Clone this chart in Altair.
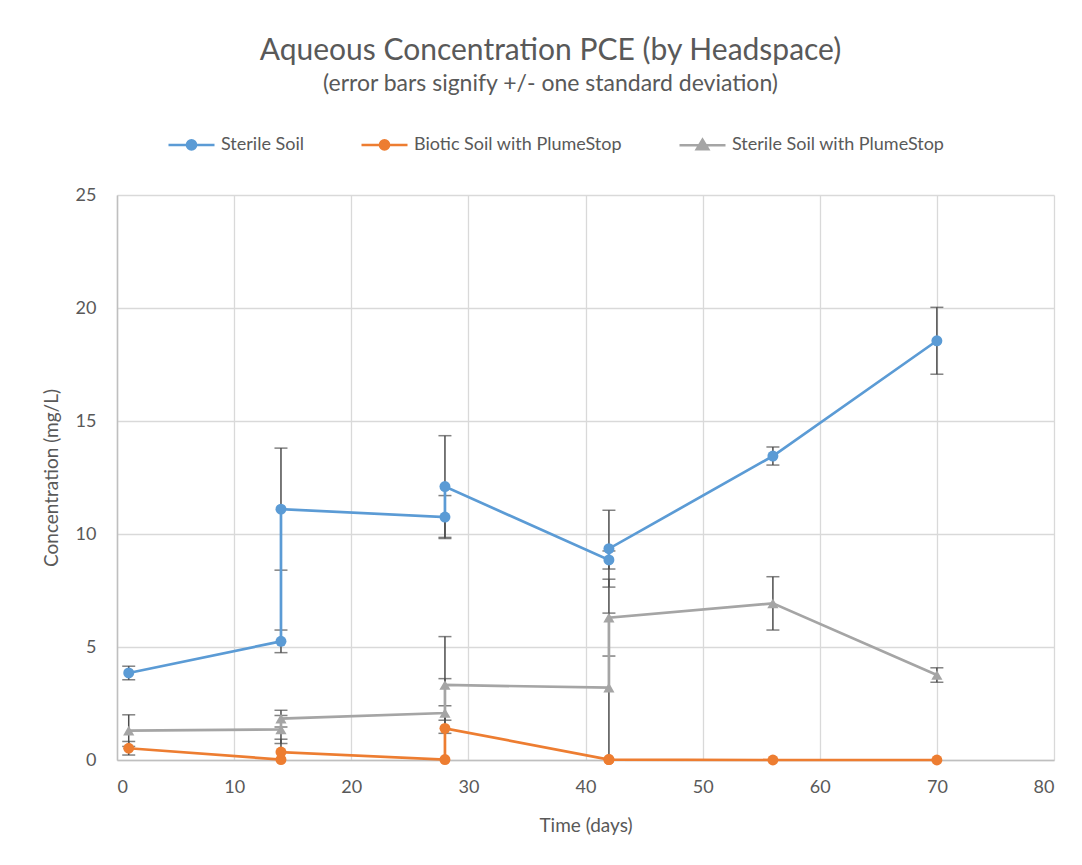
import altair as alt
import pandas as pd

# ---- data ----
series_names = ["Sterile Soil", "Biotic Soil with PlumeStop", "Sterile Soil with PlumeStop"]
series_colors = ["#5B9BD5", "#ED7D31", "#A5A5A5"]

days = [1, 14, 14, 28, 28, 42, 42, 56, 70]

sterile_conc = [3.85, 5.25, 11.1, 10.75, 12.1, 8.85, 9.35, 13.45, 18.55]
sterile_sd = [0.3, 0.5, 2.7, 0.95, 2.25, 0.4, 1.7, 0.4, 1.48]

biotic_conc = [0.52, 0.02, 0.35, 0.02, 1.4, 0.02, 0.02, 0.0, 0.0]
biotic_sd = [0.3, 0.0, 0.57, 0.0, 2.2, 0.0, 0.0, 0.0, 0.0]

plume_conc = [1.3, 1.35, 1.83, 2.08, 3.32, 3.2, 6.3, 6.93, 3.76]
plume_sd = [0.7, 0.62, 0.37, 0.32, 2.14, 3.3, 1.7, 1.18, 0.32]

x_ticks = [0, 10, 20, 30, 40, 50, 60, 70, 80]
y_ticks = [0, 5, 10, 15, 20, 25]

rows = []
for name, concs, sds in zip(series_names,
                            [sterile_conc, biotic_conc, plume_conc],
                            [sterile_sd, biotic_sd, plume_sd]):
    for i, (d, c, s) in enumerate(zip(days, concs, sds)):
        rows.append({"series": name, "day": d, "conc": c, "sd": s, "order": i})
df = pd.DataFrame(rows)

TEXT = "#595959"
FONT = "Lato"
ERR = "#4D4D4D"

circle_path = "M-1,0H1M0.2,0A0.2,0.2,0,1,1,-0.2,0A0.2,0.2,0,1,1,0.2,0Z"
triangle_path = "M-1,0H1M0,-0.24L0.25,0.17L-0.25,0.17Z"

color_scale = alt.Scale(domain=series_names, range=series_colors)
shape_scale = alt.Scale(domain=series_names, range=[circle_path, circle_path, triangle_path])

x_axis = alt.Axis(values=x_ticks, title="Time (days)", format="d")
y_axis = alt.Axis(values=y_ticks, title="Concentration (mg/L)", format="d")
x_scale = alt.Scale(domain=[0, 80], nice=False)
y_scale = alt.Scale(domain=[0, 25], nice=False)


def X():
    return alt.X("day:Q", scale=x_scale, axis=x_axis, title="Time (days)")


def Y(field):
    return alt.Y(field, scale=y_scale, axis=y_axis, title="Concentration (mg/L)")


color = alt.Color("series:N", scale=color_scale, title=None)

base = alt.Chart(df)

err = base.transform_filter("datum.sd > 0").transform_calculate(
    lo="datum.conc - datum.sd", hi="datum.conc + datum.sd")

err_rule = err.mark_rule(color=ERR, strokeWidth=1.5, clip=True).encode(
    x=X(), y=Y("lo:Q"), y2="hi:Q")
err_lo = err.mark_tick(color=ERR, orient="horizontal", size=13, thickness=1.5, clip=True).encode(
    x=X(), y=Y("lo:Q"))
err_hi = err.mark_tick(color=ERR, orient="horizontal", size=13, thickness=1.5, clip=True).encode(
    x=X(), y=Y("hi:Q"))

lines = base.mark_line(strokeWidth=2.7).encode(
    x=X(), y=Y("conc:Q"), color=color, order="order:Q")

circles = base.transform_filter(
    alt.datum.series != "Sterile Soil with PlumeStop"
).mark_point(filled=True, shape="circle", size=120, opacity=1).encode(
    x=X(), y=Y("conc:Q"), color=color)

triangles = base.transform_filter(
    alt.datum.series == "Sterile Soil with PlumeStop"
).mark_point(filled=True, shape="triangle-up", size=125, opacity=1).encode(
    x=X(), y=Y("conc:Q"), color=color)

legend_holder = base.transform_filter("false").mark_point(filled=True, opacity=1).encode(
    x=X(), y=Y("conc:Q"), color=color,
    shape=alt.Shape("series:N", scale=shape_scale, title=None))

chart = alt.layer(err_rule, err_lo, err_hi, lines, circles, triangles, legend_holder).properties(
    width=937, height=565,
    title=alt.TitleParams(
        text="Aqueous Concentration PCE (by Headspace)",
        subtitle="(error bars signify +/- one standard deviation)",
        anchor="middle", dx=-35, fontSize=30, subtitleFontSize=23,
        font=FONT, subtitleFont=FONT, fontWeight="normal",
        color=TEXT, subtitleColor=TEXT, offset=24, subtitlePadding=7),
    autosize=alt.AutoSizeParams(type="none"),
    padding={"left": 109, "top": 187, "right": 20, "bottom": 90},
).configure_view(stroke=None).configure_axis(
    labelFont=FONT, labelFontSize=18, labelColor=TEXT,
    titleFont=FONT, titleFontSize=19, titleColor=TEXT, titleFontWeight="normal",
    gridColor="#D9D9D9", gridWidth=1.3, domainColor="#BFBFBF", domainWidth=1.5,
    ticks=False, tickSize=0,
).configure_axisY(labelPadding=21, titlePadding=14).configure_axisX(
    labelPadding=18, titlePadding=20
).configure_legend(
    orient="none", legendX=50, legendY=-75, direction="horizontal", columns=3,
    symbolSize=2116, symbolStrokeWidth=2.5, symbolOpacity=1,
    labelFont=FONT, labelFontSize=18, labelColor=TEXT, labelOffset=5, labelLimit=0,
    columnPadding=52,
)

chart.save("out.html", embed_options={"renderer": "svg", "actions": False})
